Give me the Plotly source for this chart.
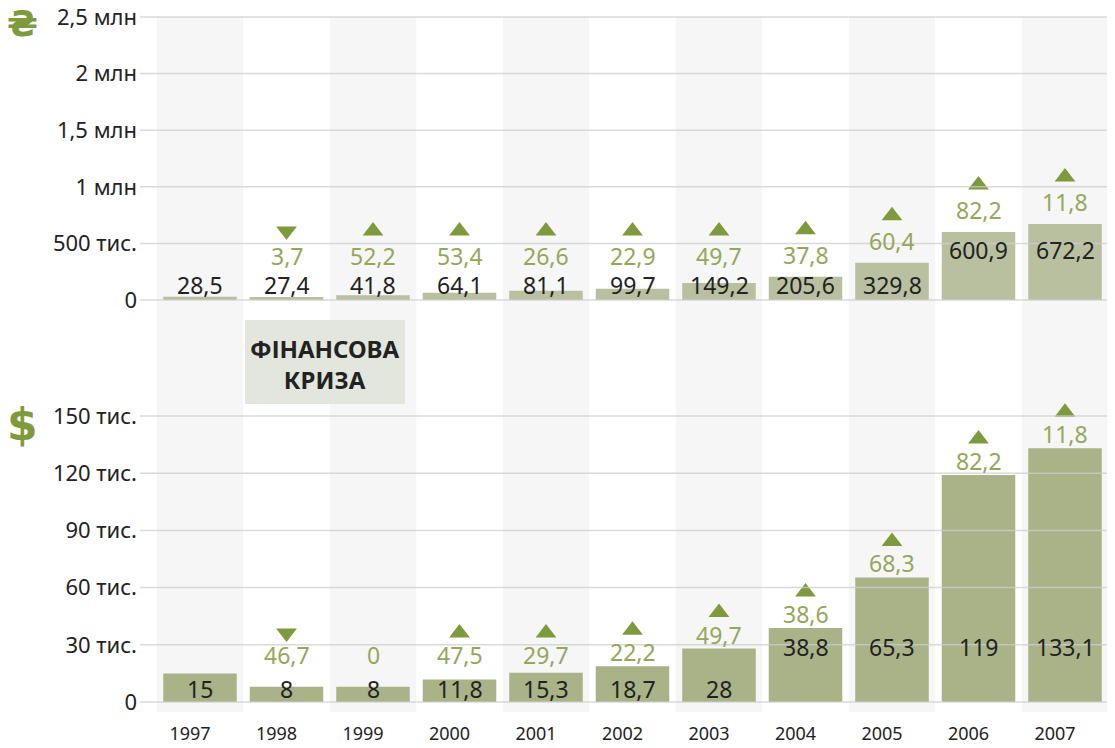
import plotly.graph_objects as go

YEARS = ["1997", "1998", "1999", "2000", "2001", "2002", "2003", "2004", "2005", "2006", "2007"]

# thousands of hryvnias / dollars
UAH_VALUES = [28.5, 27.4, 41.8, 64.1, 81.1, 99.7, 149.2, 205.6, 329.8, 600.9, 672.2]
USD_VALUES = [15, 8, 8, 11.8, 15.3, 18.7, 28, 38.8, 65.3, 119, 133.1]

# year-on-year change, %; sign gives the arrow direction
UAH_CHANGE = [None, -3.7, 52.2, 53.4, 26.6, 22.9, 49.7, 37.8, 60.4, 82.2, 11.8]
USD_CHANGE = [None, -46.7, 0, 47.5, 29.7, 22.2, 49.7, 38.6, 68.3, 82.2, 11.8]

UAH_TICKS = [0, 500, 1000, 1500, 2000, 2500]
UAH_TICK_TEXT = ["0", "500 тис.", "1 млн", "1,5 млн", "2 млн", "2,5 млн"]
USD_TICKS = [0, 30, 60, 90, 120, 150]
USD_TICK_TEXT = ["0", "30 тис.", "60 тис.", "90 тис.", "120 тис.", "150 тис."]

CRISIS_TEXT = "ФІНАНСОВА<br>КРИЗА"

# page pixels below are measured in the browser window; the page body adds an 8px margin
OFF = 8
W, H = 1115 - OFF, 748 - OFF
M_L, M_R, M_T, M_B = 140 - OFF, 0, 10 - OFF, 748 - 718
PLOT_H = H - M_T - M_B
PLOT_W = W - M_L - M_R
SPLIT_PX = 318          # page row where the two panels meet
COL_PX = 86.5           # width of one year column
FIRST_COL_PX = 200      # page x of the 1997 column centre

FONT = "Noto Sans"
INK = "#222222"
GREEN_TEXT = "#95a75a"
GREEN_MARK = "#7f9a3c"
BAR_TOP = "#b8c09f"
BAR_BOTTOM = "#a9b387"
BAND = "#f6f6f6"
GRID = "rgba(205,205,205,0.75)"


def paper_y(px):
    return (718 - px) / PLOT_H


def y_range(zero_px, top_px, top_val, dom_top_px, dom_bot_px):
    scale = (zero_px - top_px) / top_val
    return [-(dom_bot_px - zero_px) / scale, (zero_px - dom_top_px) / scale], scale


top_range, top_scale = y_range(300, 17, 2500, 10, SPLIT_PX)
bot_range, bot_scale = y_range(702, 416, 150, SPLIT_PX, 718)

x_lo = -(FIRST_COL_PX - 140) / COL_PX
x_hi = x_lo + PLOT_W / COL_PX


def fmt(v):
    v = abs(v)
    return str(int(v)) if float(v).is_integer() else f"{v:.1f}".replace(".", ",")


fig = go.Figure()

# alternating column bands behind both panels
for i in range(0, len(YEARS), 2):
    fig.add_shape(type="rect", xref="x", yref="paper", x0=i - 0.5, x1=i + 0.5,
                  y0=paper_y(712), y1=paper_y(17), fillcolor=BAND, line_width=0, layer="below")

fig.add_trace(go.Bar(x=YEARS, y=UAH_VALUES, yaxis="y", marker=dict(color=BAR_TOP, line_width=0),
                     width=0.85, hoverinfo="x+y", showlegend=False))
fig.add_trace(go.Bar(x=YEARS, y=USD_VALUES, yaxis="y2", marker=dict(color=BAR_BOTTOM, line_width=0),
                     width=0.85, hoverinfo="x+y", showlegend=False))

# gridlines sit on top of the bars in the original
for yref, ticks in (("y", UAH_TICKS), ("y2", USD_TICKS)):
    for t in ticks:
        fig.add_shape(type="line", xref="paper", yref=yref, x0=0, x1=1, y0=t, y1=t,
                      line=dict(color=GRID, width=1.5), layer="above")


def label_panel(values, changes, yref, scale, low_px, high_px, high_min, pct_floor, pct_gap, tri_gap):
    tri_x, tri_y, tri_sym = [], [], []
    for i, (v, ch) in enumerate(zip(values, changes)):
        h = v * scale
        val_px = high_px if h > high_min else low_px
        fig.add_annotation(x=i, y=val_px / scale, xref="x", yref=yref, text=fmt(v),
                           showarrow=False, height=26,
                           font=dict(family=FONT, size=23, color=INK))
        if ch is None:
            continue
        pct_px = max(pct_floor, h + pct_gap)
        fig.add_annotation(x=i, y=pct_px / scale, xref="x", yref=yref, text=fmt(ch),
                           showarrow=False, height=26,
                           font=dict(family=FONT, size=23, color=GREEN_TEXT))
        if ch != 0:
            tri_x.append(YEARS[i])
            tri_y.append((pct_px + tri_gap) / scale)
            tri_sym.append("triangle-up" if ch > 0 else "triangle-down")
    fig.add_trace(go.Scatter(x=tri_x, y=tri_y, yaxis=yref, mode="markers",
                             marker=dict(symbol=tri_sym, size=18, color=GREEN_MARK),
                             hoverinfo="skip", showlegend=False))


label_panel(UAH_VALUES, UAH_CHANGE, "y", top_scale, 15, 50, 55, 44, 22, 25)
label_panel(USD_VALUES, USD_CHANGE, "y2", bot_scale, 13, 55, 60, 47, 14, 22)

# crisis callout
fig.add_shape(type="rect", xref="x", yref="paper", x0=(245 - FIRST_COL_PX) / COL_PX,
              x1=(405 - FIRST_COL_PX) / COL_PX, y0=paper_y(404), y1=paper_y(320),
              fillcolor="#e3e6dd", line_width=0, layer="above")
fig.add_annotation(x=(325 - FIRST_COL_PX) / COL_PX, y=paper_y(364), xref="x", yref="paper",
                   text=CRISIS_TEXT, showarrow=False,
                   font=dict(family=FONT, size=24, color=INK, weight="bold"))

# currency marks (glyph sits a little below the text box centre)
for sym, px, size in (("₴", 24, 36), ("$", 424, 44)):
    fig.add_annotation(x=(22 - 140) / PLOT_W, y=paper_y(px), xref="paper", yref="paper",
                       xanchor="center", yanchor="middle", text=sym, showarrow=False,
                       font=dict(family="DejaVu Sans, " + FONT, size=size, color=GREEN_MARK,
                                 weight="bold"))

fig.update_layout(
    width=W, height=H,
    margin=dict(l=M_L, r=M_R, t=M_T, b=M_B, autoexpand=False),
    paper_bgcolor="white", plot_bgcolor="white",
    barmode="overlay",
    font=dict(family=FONT, color=INK),
    xaxis=dict(type="category", range=[x_lo, x_hi], anchor="y2", showgrid=False, zeroline=False,
               showline=False, ticks="", ticklabelshift=-10, ticklabelstandoff=3,
               tickfont=dict(family=FONT, size=18, color=INK), fixedrange=True, automargin=False),
    yaxis=dict(domain=[paper_y(SPLIT_PX), 1], range=top_range, tickvals=UAH_TICKS,
               ticktext=UAH_TICK_TEXT, showgrid=False, zeroline=False, showline=False,
               ticks="", ticklabelstandoff=2, ticklabeloverflow="allow", automargin=False,
               tickfont=dict(family=FONT, size=22, color=INK), fixedrange=True),
    yaxis2=dict(domain=[0, paper_y(SPLIT_PX)], range=bot_range, tickvals=USD_TICKS,
                ticktext=USD_TICK_TEXT, showgrid=False, zeroline=False, showline=False,
                ticks="", ticklabelstandoff=2, ticklabeloverflow="allow", automargin=False,
                tickfont=dict(family=FONT, size=22, color=INK), fixedrange=True),
)

fig.write_html("out.html")
